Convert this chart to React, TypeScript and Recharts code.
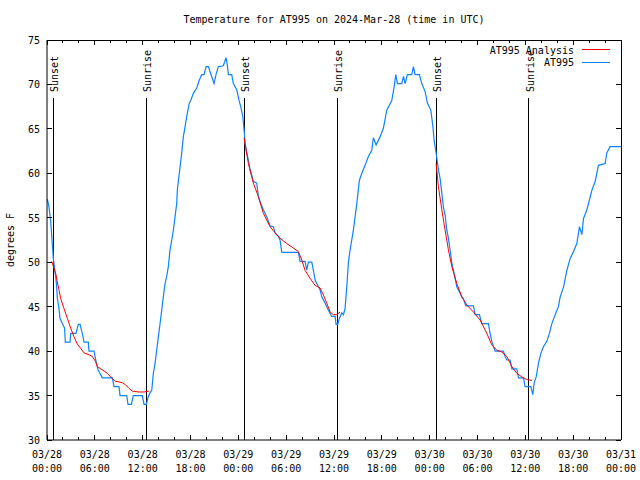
import React from 'react';
import { LineChart, Line, XAxis, YAxis, ReferenceLine } from 'recharts';

const FONT = '"DejaVu Sans Mono", "Liberation Mono", monospace';
const BLUE = '#0a84ff';
const RED = '#ff0000';
const PLOT_W = 574;
const PLOT_H = 400;

// AT995 observations: [hours since 03/28 00:00 UTC, degrees F]
const at995: [number, number][] = [
  [0.05, 57.1], [0.25, 56.2], [0.46, 54.7], [0.54, 53.6], [0.67, 52.0], [0.79, 50.5], [0.97, 49.1],
  [1.09, 48.4], [1.22, 47.2], [1.29, 46.0], [1.5, 44.8], [1.63, 43.7], [1.92, 43.1], [2.2, 42.6],
  [2.3, 41.0], [2.47, 41], [2.89, 41], [2.97, 42], [3.64, 42], [3.93, 43], [4.14, 43], [4.43, 42],
  [4.64, 41], [5.18, 41], [5.27, 40], [5.9, 40], [6.11, 39], [6.4, 37.9], [6.94, 37], [8.19, 37],
  [8.41, 36], [9.03, 36], [9.16, 35], [10.0, 35], [10.16, 34], [10.58, 34], [10.83, 35], [11.96, 35],
  [12.17, 34], [12.46, 34], [12.71, 34.9], [12.92, 35.3], [13.14, 35.6], [13.34, 37.5], [13.55, 38.6],
  [13.76, 40.1], [13.97, 41.6], [14.18, 43.1], [14.39, 44.6], [14.59, 46.1], [14.81, 47.6], [15.02, 48.4],
  [15.22, 49.5], [15.43, 51.4], [15.65, 52.5], [15.85, 53.6], [16.06, 55.1], [16.27, 56.6], [16.35, 58.1],
  [16.48, 59.2], [16.69, 60.7], [16.9, 62.3], [17.1, 64.1], [17.31, 65.2], [17.53, 66.4], [17.85, 67.9],
  [18.03, 68.2], [18.36, 69.0], [18.78, 69.6], [19.11, 70.5], [19.41, 71.1], [19.7, 71.1], [19.95, 72],
  [20.24, 72], [20.54, 71.2], [20.95, 70.1], [21.2, 71.1], [21.49, 72], [22.12, 72.1], [22.46, 73],
  [22.62, 72.2], [22.75, 71.1], [23.17, 71.1], [23.38, 70.1], [23.8, 69.4], [24.09, 68.2], [24.3, 67.5],
  [24.56, 66.4], [24.76, 64.5], [24.84, 63.4], [25.06, 62.3], [25.26, 61.5], [25.47, 60.4], [25.68, 59.8],
  [25.88, 59.1], [26.31, 58.9], [26.51, 57.4], [26.81, 56.6], [27.14, 55.9], [27.57, 55.1], [27.98, 54.1],
  [28.39, 54], [28.61, 53.3], [29.02, 52.9], [29.23, 52.5], [29.45, 51.1], [31.53, 51.1], [31.74, 50.1],
  [32.37, 50.1], [32.58, 49.1], [32.79, 50], [33.21, 50], [33.41, 49.1], [33.63, 48], [33.84, 47.6],
  [34.25, 46.9], [34.47, 46.1], [34.88, 45.4], [35.3, 44.6], [35.72, 43.9], [36.14, 43.9], [36.26, 43],
  [36.47, 43], [36.64, 43.6], [36.98, 44.3], [37.18, 44.1], [37.39, 44.8], [37.6, 47.2], [37.8, 49.9],
  [38.02, 51.4], [38.43, 53.6], [38.86, 56.6], [39.18, 59.2], [39.49, 60], [39.9, 60.9], [40.31, 61.9],
  [40.74, 62.6], [40.94, 64], [41.28, 63.2], [41.78, 64.1], [42.2, 65.1], [42.62, 67.1], [43.25, 68.2],
  [43.54, 69.7], [43.75, 71.1], [43.95, 70.1], [44.5, 70.1], [44.71, 70.9], [44.92, 70.1], [45.21, 71.1],
  [45.76, 71.1], [45.96, 72], [46.17, 71.1], [46.71, 71.1], [47.01, 70.1], [47.43, 69.2], [47.72, 67.9],
  [48.14, 67.1], [48.39, 65.4], [48.56, 63.7], [48.81, 62.3], [49.1, 60.4], [49.31, 59.4], [49.52, 57.8],
  [49.72, 56.2], [49.94, 55.3], [50.15, 53.6], [50.35, 52.7], [50.56, 51.4], [50.78, 49.9], [50.98, 49.1],
  [51.19, 48.2], [51.41, 47.2], [51.82, 46.5], [52.03, 46.1], [52.23, 45.9], [52.53, 45.1], [53.49, 45.1],
  [53.7, 44.1], [54.24, 44.1], [54.54, 43.1], [55.37, 43.1], [55.58, 42], [55.79, 41.1], [56.21, 40],
  [57.25, 40], [57.46, 39.4], [57.68, 39], [58.09, 39], [58.31, 38], [58.93, 38], [59.14, 37], [59.77, 37],
  [59.97, 36], [60.69, 36], [60.94, 35.1], [61.1, 36.4], [61.36, 37.1], [61.64, 38.6], [61.94, 39.75],
  [62.27, 40.5], [62.7, 41.1], [63.02, 42], [63.33, 43.1], [63.74, 44.1], [64.15, 45], [64.37, 46.1],
  [64.79, 47.2], [65.21, 49.1], [65.62, 50.4], [66.04, 51.2], [66.46, 52.1], [66.79, 54], [67.09, 53.1],
  [67.29, 54.9], [67.72, 55.9], [68.04, 57], [68.35, 58.1], [68.76, 59.1], [69.17, 60.9], [70.01, 61.1],
  [70.22, 62.3], [70.63, 63], [72, 63],
];

// AT995 Analysis, one curve per night
const analysisNight1: [number, number][] = [
  [0.59, 50.1], [1.09, 48.75], [1.29, 47.8], [1.5, 46.9], [1.72, 45.9], [2.13, 44.8], [2.55, 43.7],
  [2.97, 42.6], [3.39, 41.6], [3.8, 40.8], [4.23, 40.3], [4.64, 39.8], [5.27, 39.6], [5.68, 39.4],
  [6.11, 38.8], [6.31, 38.25], [6.94, 37.9], [7.57, 37.5], [8.19, 36.9], [8.62, 36.6], [9.45, 36.45],
  [9.87, 36.2], [10.29, 35.8], [10.7, 35.5], [11.54, 35.4], [12.17, 35.4], [12.8, 35.5],
];
const analysisNight2: [number, number][] = [
  [24.72, 64], [25.26, 61.1], [25.88, 58.9], [26.51, 57.4], [27.14, 55.5], [27.98, 54], [28.61, 53.3],
  [29.23, 52.7], [30.08, 52.1], [30.9, 51.6], [31.53, 51.2], [31.96, 50.25], [32.37, 49.1], [32.99, 48.2],
  [33.63, 47.4], [34.25, 47.1], [34.67, 46.3], [35.09, 45.4], [35.51, 44.4], [35.92, 44.1], [36.35, 44.1],
  [36.76, 44.4],
];
const analysisNight3: [number, number][] = [
  [48.81, 61.1], [49.1, 58.5], [49.52, 55.9], [49.94, 53.6], [50.35, 51.4], [50.78, 49.5], [51.41, 47.6],
  [52.03, 46.1], [52.66, 45.2], [53.49, 44.4], [54.33, 43.5], [55.17, 42], [55.79, 40.7], [56.42, 40.1],
  [57.05, 39.9], [57.68, 39.4], [58.31, 38.25], [58.93, 37.5], [59.56, 37.1], [60.19, 36.8], [60.82, 36.7],
];

const sunEvents = [
  { hour: 0.79, label: 'Sunset' },
  { hour: 12.46, label: 'Sunrise' },
  { hour: 24.72, label: 'Sunset' },
  { hour: 36.43, label: 'Sunrise' },
  { hour: 48.81, label: 'Sunset' },
  { hour: 60.4, label: 'Sunrise' },
];

const xTickHours = [
  0, 2, 4, 6, 8, 10, 12, 14, 16, 18, 20, 22, 24, 26, 28, 30, 32, 34, 36,
  38, 40, 42, 44, 46, 48, 50, 52, 54, 56, 58, 60, 62, 64, 66, 68, 70, 72,
];
const xMajorDates = ['03/28', '03/28', '03/28', '03/28', '03/29', '03/29', '03/29', '03/29', '03/30', '03/30', '03/30', '03/30', '03/31'];
const xMajorTimes = ['00:00', '06:00', '12:00', '18:00', '00:00', '06:00', '12:00', '18:00', '00:00', '06:00', '12:00', '18:00', '00:00'];
const yTicks = [30, 35, 40, 45, 50, 55, 60, 65, 70, 75];

const toRows = (pts: [number, number][]) => pts.map(([h, t]) => ({ h, t }));

const XTick = (props: any) => {
  const { x, y, payload } = props;
  const h = payload.value as number;
  const major = h % 6 === 0;
  const len = major ? 5 : 3;
  const idx = h / 6;
  return (
    <g>
      <line x1={x} y1={y} x2={x} y2={y - len} stroke="#000" shapeRendering="crispEdges" />
      <line x1={x} y1={y - PLOT_H} x2={x} y2={y - PLOT_H + len} stroke="#000" shapeRendering="crispEdges" />
      {major && (
        <text x={x} y={y + 18} textAnchor="middle" fontFamily={FONT} fontSize={10} fill="#000">
          {xMajorDates[idx]}
        </text>
      )}
      {major && (
        <text x={x} y={y + 32} textAnchor="middle" fontFamily={FONT} fontSize={10} fill="#000">
          {xMajorTimes[idx]}
        </text>
      )}
    </g>
  );
};

const YTick = (props: any) => {
  const { x, y, payload } = props;
  return (
    <g>
      <line x1={x} y1={y} x2={x + 5} y2={y} stroke="#000" shapeRendering="crispEdges" />
      <line x1={x + PLOT_W} y1={y} x2={x + PLOT_W - 5} y2={y} stroke="#000" shapeRendering="crispEdges" />
      <text x={x - 7} y={y + 4} textAnchor="end" fontFamily={FONT} fontSize={10} fill="#000">
        {payload.value}
      </text>
    </g>
  );
};

const sunLabel = (label: string) => (props: any) => {
  const vb = props.viewBox || {};
  const x = vb.x ?? 0;
  const top = vb.y ?? 40;
  const height = vb.height ?? PLOT_H;
  return (
    <g>
      <line x1={x} y1={top + 58} x2={x} y2={top + height} stroke="#000" shapeRendering="crispEdges" />
      <text
        transform={`translate(${x + 5},${top + 52}) rotate(-90)`}
        fontFamily={FONT}
        fontSize={10}
        fill="#000"
      >
        {label}
      </text>
    </g>
  );
};

export default function App() {
  return (
    <div style={{ position: 'absolute', left: 0, top: 0, width: 640, height: 480, background: '#fff' }}>
      <LineChart width={640} height={480} margin={{ top: 40, right: 19, left: 0, bottom: 0 }}>
        <XAxis
          dataKey="h"
          type="number"
          domain={[0, 72]}
          ticks={xTickHours}
          interval={0}
          allowDataOverflow
          height={40}
          tickSize={0}
          tickMargin={0}
          tickLine={false}
          axisLine={{ stroke: '#000' }}
          tick={<XTick />}
        />
        <YAxis
          type="number"
          domain={[30, 75]}
          ticks={yTicks}
          interval={0}
          allowDataOverflow
          width={47}
          tickSize={0}
          tickMargin={0}
          tickLine={false}
          axisLine={{ stroke: '#000' }}
          tick={<YTick />}
        />
        <ReferenceLine y={75} stroke="#000" shapeRendering="crispEdges" />
        <ReferenceLine x={72} stroke="#000" shapeRendering="crispEdges" />
        {sunEvents.map((s) => (
          <ReferenceLine key={s.hour} x={s.hour} stroke="none" label={sunLabel(s.label)} />
        ))}
        <Line data={toRows(at995)} dataKey="t" type="linear" stroke={BLUE} strokeWidth={1.2} dot={false} isAnimationActive={false} />
        <Line data={toRows(analysisNight1)} dataKey="t" type="linear" stroke={RED} strokeWidth={1} dot={false} isAnimationActive={false} />
        <Line data={toRows(analysisNight2)} dataKey="t" type="linear" stroke={RED} strokeWidth={1} dot={false} isAnimationActive={false} />
        <Line data={toRows(analysisNight3)} dataKey="t" type="linear" stroke={RED} strokeWidth={1} dot={false} isAnimationActive={false} />
      </LineChart>
      <svg width={640} height={480} style={{ position: 'absolute', left: 0, top: 0, pointerEvents: 'none' }}>
        <text x={334} y={23} textAnchor="middle" fontFamily={FONT} fontSize={10} fill="#000">
          Temperature for AT995 on 2024-Mar-28 (time in UTC)
        </text>
        <text transform="translate(14,240) rotate(-90)" textAnchor="middle" fontFamily={FONT} fontSize={10} fill="#000">
          degrees F
        </text>
        <text x={574} y={53.5} textAnchor="end" fontFamily={FONT} fontSize={10} fill="#000">AT995 Analysis</text>
        <line x1={582} y1={49.5} x2={610} y2={49.5} stroke={RED} />
        <text x={574} y={66} textAnchor="end" fontFamily={FONT} fontSize={10} fill="#000">AT995</text>
        <line x1={582} y1={62.5} x2={610} y2={62.5} stroke={BLUE} />
      </svg>
    </div>
  );
}
